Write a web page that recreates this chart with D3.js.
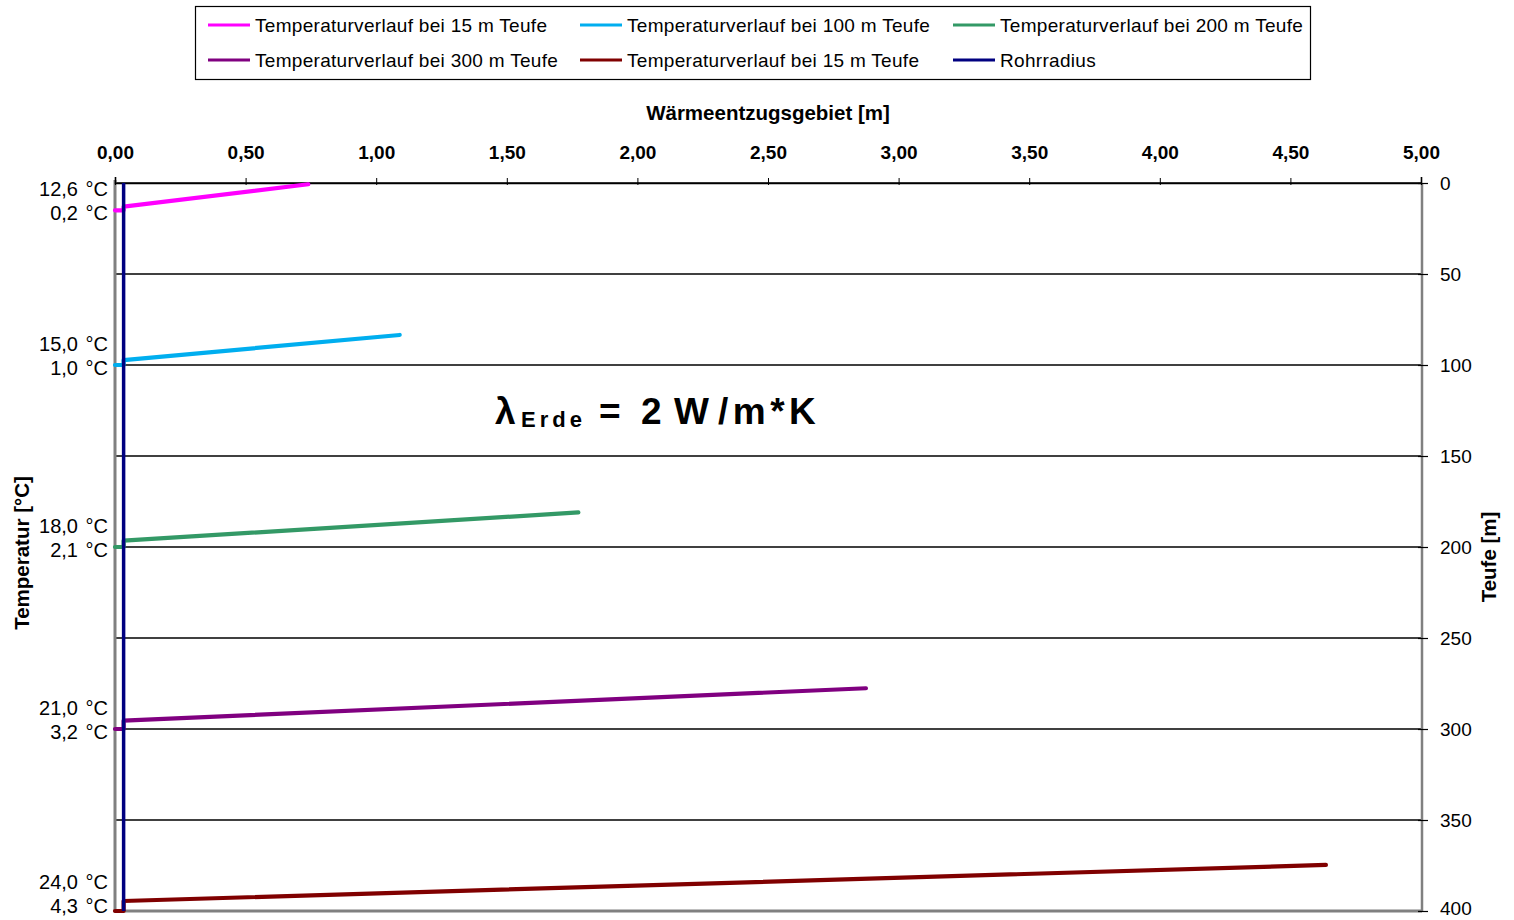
<!DOCTYPE html>
<html>
<head>
<meta charset="utf-8">
<script src="https://cdn.jsdelivr.net/npm/d3@7"></script>
<style>
  html, body { margin: 0; padding: 0; background: #fff; }
  svg { display: block; font-family: "Liberation Sans", Arial, sans-serif; }
</style>
</head>
<body>
<svg id="chart" width="1514" height="920"></svg>
<script>
// Horizontal axis: heat extraction zone around the borehole pipe [m]
const xTicks = [0, 0.5, 1.0, 1.5, 2.0, 2.5, 3.0, 3.5, 4.0, 4.5, 5.0];
// Vertical axis: depth [m]
const depthTicks = [0, 50, 100, 150, 200, 250, 300, 350, 400];

const seriesNames = [
  "Temperaturverlauf bei 15 m Teufe",
  "Temperaturverlauf bei 100 m Teufe",
  "Temperaturverlauf bei 200 m Teufe",
  "Temperaturverlauf bei 300 m Teufe",
  "Temperaturverlauf bei 15 m Teufe"
];
const pipeName = "Rohrradius";

// pipe radius [m]
const pipeRadius = 0.033;
// depth level of each profile inside the pipe [m]
const depthInPipe = [15, 100, 200, 300, 400];
// plotted position at the pipe wall [m]
const depthAtWall = [13.0, 97.3, 196.5, 295.4, 394.5];
// outer reach of the extraction zone [m] and its plotted position [m]
const reach = [0.74, 1.09, 1.774, 2.875, 4.636];
const depthAtReach = [0.7, 83.5, 181.0, 277.6, 374.7];

// undisturbed ground temperature and fluid temperature [°C]
const groundTemps = [12.6, 15.0, 18.0, 21.0, 24.0];
const pipeTemps = [0.2, 1.0, 2.1, 3.2, 4.3];

const palette = ["#FF00FF", "#00AEEF", "#339966", "#800080", "#800000"];
const pipeColor = "#000080";

const svg = d3.select("#chart");
const x = d3.scaleLinear().domain([0, 5]).range([115, 1421]);
const y = d3.scaleLinear().domain([0, 400]).range([183, 911]);
const fmtComma = (v, p) => d3.format("." + p + "f")(v).replace(".", ",");

// horizontal grid lines
svg.append("g").selectAll("line")
  .data(depthTicks.filter(d => d < 400))
  .join("line")
  .attr("x1", x(0)).attr("x2", x(5) + 1)
  .attr("y1", d => y(d)).attr("y2", d => y(d))
  .attr("stroke", "#000").attr("stroke-width", 1.6);

// left and bottom axis frame (gray)
svg.append("line").attr("x1", x(0)).attr("x2", x(0)).attr("y1", y(0) - 3).attr("y2", y(400) + 1)
  .attr("stroke", "#808080").attr("stroke-width", 3);
svg.append("line").attr("x1", x(0) - 1).attr("x2", x(5) + 1).attr("y1", y(400)).attr("y2", y(400))
  .attr("stroke", "#808080").attr("stroke-width", 3);
// right axis line (gray)
svg.append("line").attr("x1", x(5) + 1).attr("x2", x(5) + 1).attr("y1", y(0)).attr("y2", y(400))
  .attr("stroke", "#808080").attr("stroke-width", 2.5);

// top axis
const topAxis = svg.append("g")
  .attr("transform", `translate(0,${y(0)})`)
  .call(d3.axisTop(x).tickValues(xTicks).tickSize(6).tickPadding(18)
    .tickFormat(d => fmtComma(d, 2)));
topAxis.select(".domain").attr("stroke", "#000").attr("stroke-width", 1.6);
topAxis.selectAll(".tick line").attr("stroke", "#000").attr("y2", -5).attr("y1", 2);
topAxis.selectAll("text").attr("font-size", 19).attr("font-weight", "bold")
  .attr("font-family", "Liberation Sans, Arial, sans-serif").attr("fill", "#000");

// right axis
const rightAxis = svg.append("g")
  .attr("transform", `translate(${x(5) + 1},0)`)
  .call(d3.axisRight(y).tickValues(depthTicks).tickSize(6).tickPadding(12)
    .tickFormat(d3.format("d")));
rightAxis.select(".domain").remove();
rightAxis.selectAll(".tick line").attr("stroke", "#000").attr("stroke-width", 1.2).attr("x1", -4).attr("x2", 6);
rightAxis.selectAll("text").attr("font-size", 19)
  .attr("font-family", "Liberation Sans, Arial, sans-serif").attr("fill", "#000");
rightAxis.selectAll(".tick").filter(d => d === 400).select("text").attr("dy", "0.2em");

// temperature profiles
const line = d3.line().x(d => x(d[0])).y(d => y(d[1]));
const profiles = seriesNames.map((name, i) => ({
  name,
  color: palette[i],
  pts: [[0, depthInPipe[i]], [pipeRadius, depthInPipe[i]], [pipeRadius, depthAtWall[i]], [reach[i], depthAtReach[i]]]
}));
svg.append("g").selectAll("path")
  .data(profiles)
  .join("path")
  .attr("d", d => line(d.pts))
  .attr("fill", "none")
  .attr("stroke", d => d.color)
  .attr("stroke-width", 4.2)
  .attr("stroke-linecap", "round")
  .attr("stroke-linejoin", "round");

// pipe radius marker
svg.append("path")
  .attr("d", line([[pipeRadius, 0], [pipeRadius, 400]]))
  .attr("stroke", pipeColor).attr("stroke-width", 3.5).attr("fill", "none");

// temperature labels at the left edge
const tempLabels = svg.append("g").attr("font-size", 20).attr("fill", "#000")
  .attr("text-anchor", "end").attr("word-spacing", 2);
depthInPipe.forEach((d, i) => {
  const yc = Math.min(y(d) + 3, 906);
  tempLabels.append("text").attr("x", 108).attr("y", yc - 24).attr("dy", "0.35em")
    .text(fmtComma(groundTemps[i], 1) + " °C");
  tempLabels.append("text").attr("x", 108).attr("y", yc).attr("dy", "0.35em")
    .text(fmtComma(pipeTemps[i], 1) + " °C");
});

// axis titles
svg.append("text").attr("x", 768).attr("y", 113).attr("dy", "0.35em")
  .attr("text-anchor", "middle").attr("font-size", 20.5).attr("font-weight", "bold")
  .text("Wärmeentzugsgebiet [m]");
svg.append("text").attr("transform", "translate(22,553) rotate(-90)").attr("dy", "0.35em")
  .attr("text-anchor", "middle").attr("font-size", 20.5).attr("font-weight", "bold")
  .text("Temperatur [°C]");
svg.append("text").attr("transform", "translate(1489,557) rotate(-90)").attr("dy", "0.35em")
  .attr("text-anchor", "middle").attr("font-size", 20.5).attr("font-weight", "bold")
  .text("Teufe [m]");

// thermal conductivity annotation
const lam = svg.append("text").attr("y", 424)
  .attr("font-size", 37).attr("font-weight", "bold").attr("fill", "#000");
lam.append("tspan").attr("x", 495).text("λ");
lam.append("tspan").attr("x", 521).attr("y", 427).attr("font-size", 22).attr("letter-spacing", 4).text("Erde");
lam.append("tspan").attr("x", 599).attr("y", 424).text("=");
lam.append("tspan").attr("x", 641).text("2");
lam.append("tspan").attr("x", 674).text("W");
lam.append("tspan").attr("x", 718).attr("letter-spacing", 4.5).text("/m*K");

// legend
const legendItems = profiles.map(p => ({ name: p.name, color: p.color }))
  .concat([{ name: pipeName, color: pipeColor }]);
svg.append("rect").attr("x", 195.5).attr("y", 6.5).attr("width", 1115).attr("height", 73)
  .attr("fill", "#fff").attr("stroke", "#000").attr("stroke-width", 1.2);
const colX = [208, 580, 953];
const rowY = [25, 60];
const leg = svg.append("g").selectAll("g")
  .data(legendItems)
  .join("g")
  .attr("transform", (d, i) => `translate(${colX[i % 3]},${rowY[Math.floor(i / 3)]})`);
leg.append("line").attr("x1", 0).attr("x2", 42).attr("y1", 0).attr("y2", 0)
  .attr("stroke", d => d.color).attr("stroke-width", 3);
leg.append("text").attr("x", 47).attr("dy", "0.35em").attr("font-size", 19).attr("fill", "#000")
  .attr("letter-spacing", 0.3)
  .text(d => d.name);
</script>
</body>
</html>
